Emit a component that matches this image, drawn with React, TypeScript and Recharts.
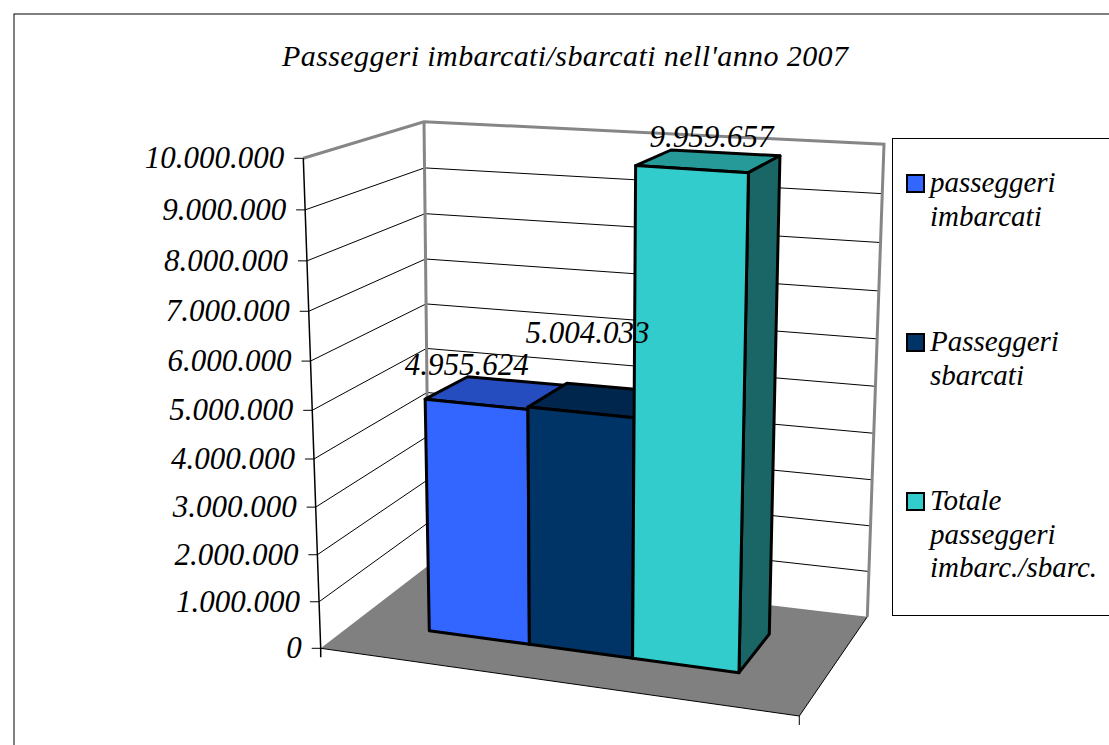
import { BarChart, Bar, XAxis, YAxis, CartesianGrid, Legend, LabelList } from 'recharts';

const categories = ['2007'];
const seriesNames = ['passeggeri imbarcati', 'Passeggeri sbarcati', 'Totale passeggeri imbarc./sbarc.'];
const seriesValues = [4955624, 5004033, 9959657];
const yTicks = [0, 1000000, 2000000, 3000000, 4000000, 5000000, 6000000, 7000000, 8000000, 9000000, 10000000];
const title = "Passeggeri imbarcati/sbarcati nell'anno 2007";

const frontColors = ['#3366FF', '#003366', '#33CCCC'];
const topColors = ['#264DBF', '#00264D', '#269999'];
const sideColors = ['#1A3380', '#001A33', '#1A6666'];
const labelOffsets = [[-9.5, -29], [7, -69], [20, -22.5]];

const FONT = '"Liberation Serif", serif';
const W = 1109;
const H = 745;
const PLOT = { left: 300, top: 150, width: 450, height: 500 };

type Pt = [number, number];

// unit square -> quad (bl, br, tr, tl), keeps the perspective of the 3d box
function quad(p0: Pt, p1: Pt, p2: Pt, p3: Pt) {
  const dx1 = p1[0] - p2[0], dx2 = p3[0] - p2[0], sx = p0[0] - p1[0] + p2[0] - p3[0];
  const dy1 = p1[1] - p2[1], dy2 = p3[1] - p2[1], sy = p0[1] - p1[1] + p2[1] - p3[1];
  const den = dx1 * dy2 - dx2 * dy1;
  const g = (sx * dy2 - dx2 * sy) / den;
  const h = (dx1 * sy - sx * dy1) / den;
  const a = p1[0] - p0[0] + g * p1[0], b = p3[0] - p0[0] + h * p3[0];
  const d = p1[1] - p0[1] + g * p1[1], e = p3[1] - p0[1] + h * p3[1];
  return (u: number, v: number): Pt => {
    const w = g * u + h * v + 1;
    return [(a * u + b * v + p0[0]) / w, (d * u + e * v + p0[1]) / w];
  };
}

const frontWall = quad([320.7, 648.3], [799.3, 716], [811, 192], [303.3, 158.3]);
const backWall = quad([429, 565], [867.3, 616.7], [884, 144.3], [424, 121.7]);
const barFront = quad([429.3, 630.7], [739, 672.7], [748.5, 170.5], [420.7, 150]);
const barBack = quad([472, 598], [769.3, 634], [780, 153.7], [463, 137]);

const toU = (x: number) => (x - PLOT.left) / PLOT.width;
const toV = (y: number) => (PLOT.top + PLOT.height - y) / PLOT.height;
const poly = (pts: Pt[]) => pts.map((p) => p.join(',')).join(' ');
const fmt = (n: number) => String(n).replace(/\B(?=(\d{3})+$)/g, '.');

function GridLine(props: any) {
  const v = toV(props.y1);
  if (v < 0.001 || v > 0.999) return <g key={props.key} />;
  return (
    <polyline
      key={props.key}
      points={poly([frontWall(0, v), backWall(0, v), backWall(1, v)])}
      fill="none"
      stroke="#000"
      strokeWidth={1}
    />
  );
}

function AxisTick(props: any) {
  const v = toV(props.y);
  const [x, y] = frontWall(0, v);
  return (
    <g>
      <line x1={x - 9} y1={y} x2={x} y2={y} stroke="#000" strokeWidth={1} />
      <text x={x - 19} y={y + 10} textAnchor="end" fontFamily={FONT} fontStyle="italic" fontSize={31} fill="#000">
        {fmt(props.payload.value)}
      </text>
    </g>
  );
}

function Bar3D(props: any) {
  const { x, y, width, height, index2 } = props;
  const u0 = toU(x), u1 = toU(x + width);
  const v0 = toV(y + height), v1 = toV(y);
  const line = { stroke: '#000', strokeWidth: 3, strokeLinejoin: 'round' as const };
  return (
    <g>
      <polygon points={poly([barFront(u0, v1), barFront(u1, v1), barBack(u1, v1), barBack(u0, v1)])} fill={topColors[index2]} {...line} />
      <polygon points={poly([barFront(u1, v0), barBack(u1, v0), barBack(u1, v1), barFront(u1, v1)])} fill={sideColors[index2]} {...line} />
      <polygon points={poly([barFront(u0, v0), barFront(u1, v0), barFront(u1, v1), barFront(u0, v1)])} fill={frontColors[index2]} {...line} />
    </g>
  );
}

function makeLabel(i: number) {
  return (props: any) => {
    const u = toU(props.x + props.width / 2);
    const v = toV(props.y);
    const [x, y] = barFront(u, v);
    return (
      <text x={x + labelOffsets[i][0]} y={y + labelOffsets[i][1]} textAnchor="middle" fontFamily={FONT} fontStyle="italic" fontSize={31} fill="#000">
        {fmt(Number(props.value))}
      </text>
    );
  };
}

function LegendBox(props: any) {
  const tops = [27, 186, 345];
  return (
    <div style={{ position: 'relative', width: 260, height: 476, border: '1px solid #000', background: '#fff', fontFamily: FONT, fontStyle: 'italic', fontSize: 29, lineHeight: '33.5px', color: '#000' }}>
      {(props.payload || []).map((item: any, i: number) => (
        <div key={item.value} style={{ position: 'absolute', left: 13, top: tops[i], display: 'flex' }}>
          <div style={{ width: 15, height: 15, marginTop: 8, border: '2.5px solid #000', background: item.color, flex: 'none' }} />
          <div style={{ marginLeft: 5, width: 172 }}>{item.value}</div>
        </div>
      ))}
    </div>
  );
}

const row: Record<string, string | number> = { name: categories[0] };
seriesNames.forEach((n, i) => { row[n] = seriesValues[i]; });
const data = [row];

export default function App() {
  return (
    <div style={{ position: 'absolute', left: 0, top: 0, width: W, height: H, overflow: 'hidden', background: '#fff' }}>
      <BarChart
        width={W}
        height={H}
        data={data}
        barCategoryGap={0}
        barGap={0}
        margin={{ left: PLOT.left - 1, top: PLOT.top, right: W - PLOT.left - PLOT.width, bottom: H - PLOT.top - PLOT.height }}
      >
        <rect x={14} y={14} width={1200} height={1000} fill="none" stroke="#000" strokeWidth={1} />
        <text x={565} y={66} textAnchor="middle" fontFamily={FONT} fontStyle="italic" fontSize={30} textLength={566} lengthAdjust="spacing">
          {title}
        </text>
        <polygon points={poly([backWall(0, 0), backWall(1, 0), frontWall(1, 0), frontWall(0, 0)])} fill="#808080" />
        <CartesianGrid horizontal={GridLine} vertical={false} />
        <polyline points={poly([frontWall(0, 1), backWall(0, 1), backWall(1, 1), backWall(1, 0)])} fill="none" stroke="#868686" strokeWidth={3} />
        <line x1={backWall(0, 1)[0]} y1={backWall(0, 1)[1]} x2={backWall(0, 0)[0]} y2={backWall(0, 0)[1]} stroke="#868686" strokeWidth={3} />
        <polyline points={poly([frontWall(0, 1), frontWall(0, 0), [frontWall(0, 0)[0], frontWall(0, 0)[1] + 9]])} fill="none" stroke="#000" strokeWidth={1.5} />
        <polyline points={poly([frontWall(0, 0), frontWall(1, 0), [frontWall(1, 0)[0], frontWall(1, 0)[1] + 9]])} fill="none" stroke="#000" strokeWidth={1} />
        <line x1={frontWall(1, 0)[0]} y1={frontWall(1, 0)[1]} x2={backWall(1, 0)[0]} y2={backWall(1, 0)[1]} stroke="#000" strokeWidth={1} />
        <XAxis dataKey="name" hide />
        <YAxis width={1} domain={[0, 10000000]} ticks={yTicks} interval={0} axisLine={false} tickLine={false} tick={AxisTick} />
        {seriesNames.map((n, i) => (
          <Bar
            key={n}
            dataKey={n}
            name={n}
            fill={frontColors[i]}
            isAnimationActive={false}
            shape={(p: any) => <Bar3D {...p} index2={i} />}
          >
            <LabelList dataKey={n} content={makeLabel(i)} />
          </Bar>
        ))}
        <Legend
          align="center"
          verticalAlign="middle"
          layout="vertical"
          itemSorter={null}
          content={LegendBox}
          wrapperStyle={{ position: 'absolute', left: 892, top: 138, width: 260, margin: 0 }}
        />
      </BarChart>
    </div>
  );
}
